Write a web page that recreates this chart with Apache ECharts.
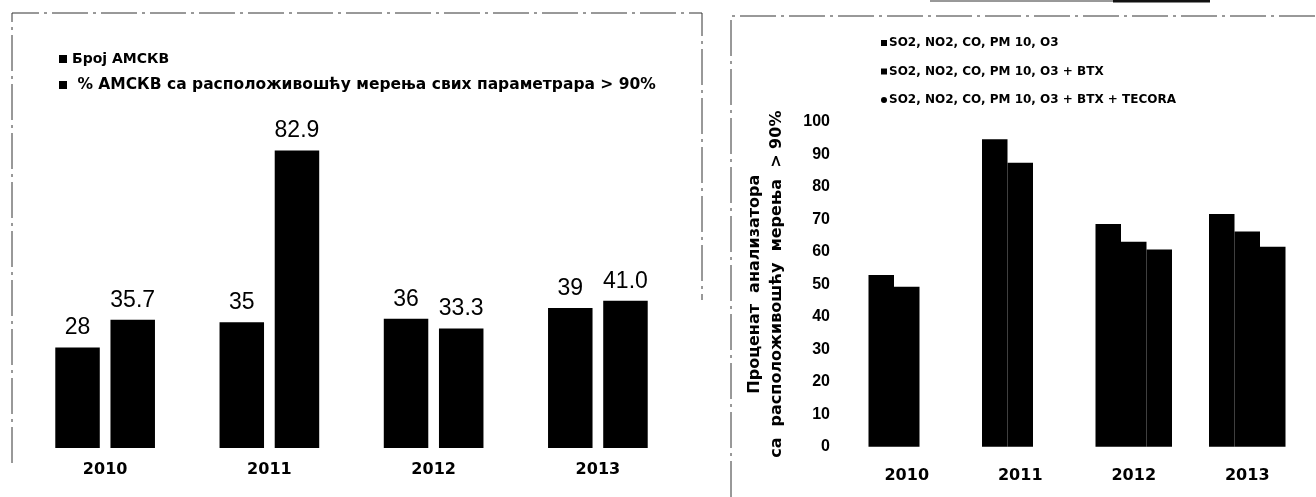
<!DOCTYPE html>
<html>
<head>
<meta charset="utf-8">
<script src="https://cdn.jsdelivr.net/npm/echarts@6/dist/echarts.min.js"></script>
<style>
html,body{margin:0;padding:0;background:#fff;}
#c{width:1316px;height:497px;}
</style>
</head>
<body>
<div id="c"></div>
<script>
// ---- data ----
const years = ['2010', '2011', '2012', '2013'];
const leftNames = ['Број АМСКВ', '% АМСКВ са расположивошћу мерења свих параметрара > 90%'];
const stationCount = [28, 35, 36, 39];
const stationPct = [35.7, 82.9, 33.3, 41.0];
const rightNames = ['SO2, NO2, CO, PM 10, O3', 'SO2, NO2, CO, PM 10, O3 + BTX', 'SO2, NO2, CO, PM 10, O3 + BTX + TECORA'];
const pctBasic = [52.8, 94.6, 68.5, 71.6];
const pctBtx = [49.2, 87.4, 63.1, 66.2];
const pctTecora = [null, null, 60.7, 61.5];
const rightTicks = [0, 10, 20, 30, 40, 50, 60, 70, 80, 90, 100];
const yAxisName = 'Проценат  анализатора\nса  расположивошћу  мерења  > 90%';

const chart = echarts.init(document.getElementById('c'));
const BOLD = 'DejaVu Sans';
const frame = { stroke: '#333', lineWidth: 1, lineDash: [36, 5, 3, 5] };

const option = {
  backgroundColor: '#fff',
  animation: false,
  graphic: [
    { type: 'polyline', shape: { points: [[12, 463], [12, 13], [702, 13], [702, 300]] }, style: Object.assign({ fill: null }, frame) },
    { type: 'polyline', shape: { points: [[731, 497], [731, 16], [1316, 16]] }, style: Object.assign({ fill: null }, frame) },
    { type: 'line', shape: { x1: 930, y1: 1, x2: 1113, y2: 1 }, style: { stroke: '#333', lineWidth: 1 } },
    { type: 'line', shape: { x1: 1113, y1: 1, x2: 1210, y2: 1 }, style: { stroke: '#111', lineWidth: 3 } }
  ],
  legend: [
    {
      data: [
        { name: leftNames[0], textStyle: { fontSize: 14 } },
        { name: leftNames[1] }
      ],
      orient: 'vertical',
      left: 59, top: 52, padding: 0,
      itemWidth: 8, itemHeight: 8, itemGap: 11,
      icon: 'rect',
      formatter: function (n) { return n === leftNames[1] ? ' ' + n : n; },
      textStyle: { fontFamily: BOLD, fontWeight: 'bold', fontSize: 15.5, color: '#000' }
    },
    {
      data: [
        { name: rightNames[0], icon: 'rect' },
        { name: rightNames[1], icon: 'rect' },
        { name: rightNames[2], icon: 'circle' }
      ],
      orient: 'vertical',
      left: 881, top: 37, padding: 0,
      itemWidth: 6, itemHeight: 6, itemGap: 16.5,
      textStyle: { fontFamily: BOLD, fontWeight: 'bold', fontSize: 12, color: '#000', padding: [0, 0, 0, -3] }
    }
  ],
  grid: [
    { left: 23, width: 657, top: 89, height: 359 },
    { left: 850, width: 454, top: 121.7, height: 325 }
  ],
  xAxis: [
    {
      type: 'category', gridIndex: 0, data: years,
      axisLine: { show: false }, axisTick: { show: false },
      axisLabel: { fontFamily: BOLD, fontWeight: 'bold', fontSize: 16, color: '#000', margin: 14 }
    },
    {
      type: 'category', gridIndex: 1, data: years,
      axisLine: { show: false }, axisTick: { show: false },
      axisLabel: { fontFamily: BOLD, fontWeight: 'bold', fontSize: 16, color: '#000', margin: 21 }
    }
  ],
  yAxis: [
    {
      type: 'value', gridIndex: 0, min: 0, max: 100, show: false, splitLine: { show: false }
    },
    {
      type: 'value', gridIndex: 1, min: rightTicks[0], max: rightTicks[rightTicks.length - 1], interval: 10,
      axisLine: { show: false }, axisTick: { show: false }, splitLine: { show: false },
      axisLabel: { fontFamily: 'Liberation Sans', fontWeight: 'bold', fontSize: 16, color: '#000', margin: 20 },
      name: yAxisName, nameLocation: 'middle', nameGap: 62, nameRotate: 90,
      nameTextStyle: { fontFamily: BOLD, fontWeight: 'bold', fontSize: 16, color: '#000', lineHeight: 22 }
    }
  ],
  series: [
    {
      name: leftNames[0], type: 'bar', xAxisIndex: 0, yAxisIndex: 0, data: stationCount,
      barWidth: 44.5, barGap: '24%',
      itemStyle: { color: '#000' },
      label: { show: true, position: 'top', distance: 8, fontFamily: 'Liberation Sans', fontSize: 23, color: '#000' }
    },
    {
      name: leftNames[1], type: 'bar', xAxisIndex: 0, yAxisIndex: 0, data: stationPct,
      barWidth: 44.5, barGap: '24%',
      itemStyle: { color: '#000' },
      label: { show: true, position: 'top', distance: 8, fontFamily: 'Liberation Sans', fontSize: 23, color: '#000',
        formatter: function (p) { return Number(p.value).toFixed(1); } }
    },
    {
      name: rightNames[0], type: 'bar', xAxisIndex: 1, yAxisIndex: 1, data: pctBasic,
      barWidth: 25.5, barGap: 0, itemStyle: { color: '#000' }
    },
    {
      name: rightNames[1], type: 'bar', xAxisIndex: 1, yAxisIndex: 1, data: pctBtx,
      barWidth: 25.5, barGap: 0, itemStyle: { color: '#000' }
    },
    {
      name: rightNames[2], type: 'bar', xAxisIndex: 1, yAxisIndex: 1, data: pctTecora,
      barWidth: 25.5, barGap: 0, itemStyle: { color: '#000' }
    }
  ]
};
chart.setOption(option);
</script>
</body>
</html>
